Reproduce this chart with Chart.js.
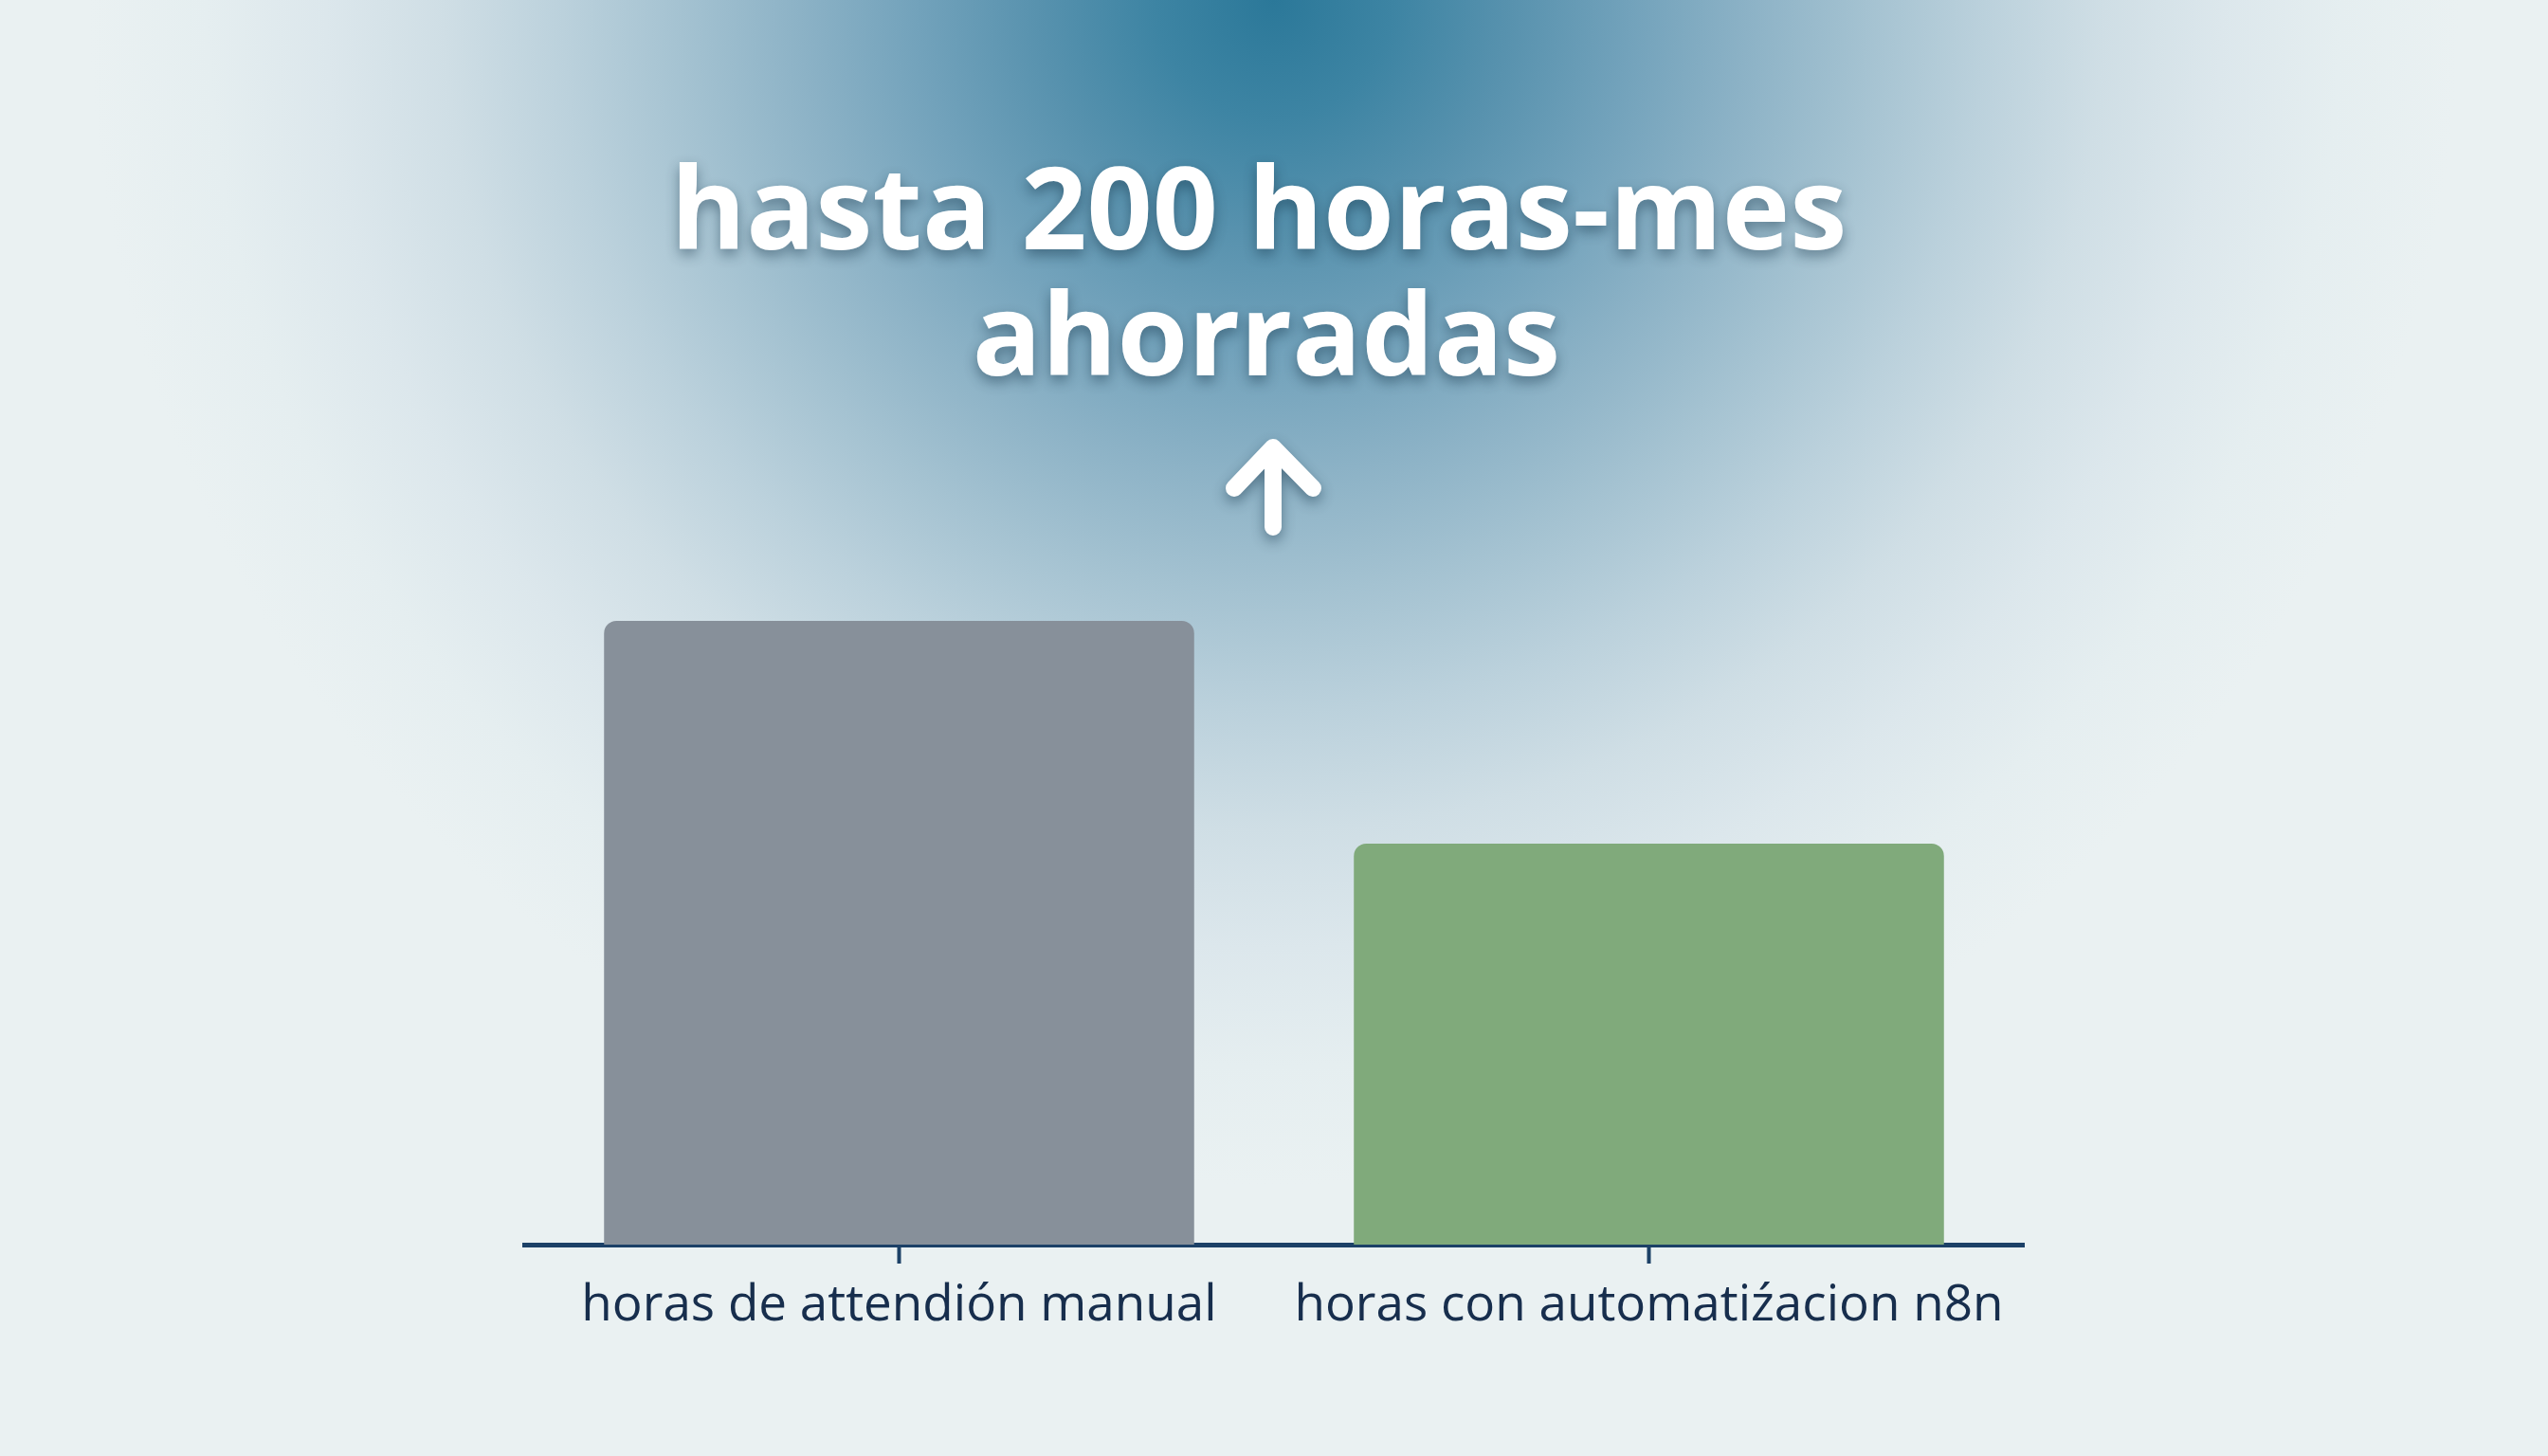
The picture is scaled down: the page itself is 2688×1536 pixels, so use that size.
<!DOCTYPE html>
<html lang="es">
<head>
<meta charset="utf-8">
<title>horas ahorradas</title>
<script src="https://cdn.jsdelivr.net/npm/chart.js@4.4.1/dist/chart.umd.min.js"></script>
<style>
  html, body {
    margin: 0;
    padding: 0;
    width: 2688px;
    height: 1536px;
    overflow: hidden;
    background-color: #eaf1f2;
    background-image: radial-gradient(ellipse 1250px 1250px at 50% 0%,
      #2b7899 0%, #3d84a3 10%, #5892ae 20%, #72a2bb 30%, #8cb2c6 40%, #a4c2d1 50%,
      #bbd1dc 60%, #cfdee5 70%, #dce7ec 80%, #e5eef0 90%, #eaf1f2 100%);
  }
  #wrap {
    position: absolute;
    left: 0;
    top: 0;
    width: 2688px;
    height: 1536px;
  }
</style>
</head>
<body>
<div id="wrap"><canvas id="barChart"></canvas></div>
<script>
const categories = ["horas de attendión manual", "horas con automatiźacion n8n"];
const hours = [560, 360];
const barColors = ["#87909a", "#80aa7b"];
const titleLines = ["hasta 200 horas-mes", "ahorradas"];

const navy = "#1c4167";

// white headline + arrow above the bars
const headline = {
  id: "headline",
  afterDraw(chart) {
    const ctx = chart.ctx;
    ctx.save();
    ctx.fillStyle = "#ffffff";
    ctx.shadowColor = "rgba(15, 45, 65, 0.45)";
    ctx.shadowBlur = 14;
    ctx.shadowOffsetY = 6;
    ctx.font = '700 121px "Open Sans"';
    ctx.textAlign = "center";
    ctx.textBaseline = "alphabetic";
    ctx.fillText(titleLines[0], 1328, 263);
    ctx.fillText(titleLines[1], 1336, 396);

    ctx.strokeStyle = "#ffffff";
    ctx.lineWidth = 18;
    ctx.lineCap = "round";
    ctx.lineJoin = "round";
    ctx.beginPath();
    ctx.moveTo(1343, 556);
    ctx.lineTo(1343, 476);
    ctx.moveTo(1302, 515);
    ctx.lineTo(1343, 472);
    ctx.lineTo(1385, 515);
    ctx.stroke();
    ctx.restore();
  },
};

const data = {
  labels: categories,
  datasets: [
    {
      data: hours,
      backgroundColor: barColors,
      borderRadius: 13,
      borderSkipped: "start",
      categoryPercentage: 1,
      barPercentage: 0.787,
    },
  ],
};

const config = {
  type: "bar",
  data: data,
  options: {
    responsive: true,
    maintainAspectRatio: false,
    animation: false,
    layout: {
      padding: { top: 608, left: 553, right: 553, bottom: 123 },
    },
    scales: {
      x: {
        afterFit(scale) {
          scale.height = 100;
        },
        grid: {
          offset: false,
          drawOnChartArea: false,
          tickLength: 20,
          tickWidth: 4,
          tickColor: navy,
        },
        border: {
          display: true,
          color: navy,
          width: 5,
        },
        ticks: {
          padding: 13,
          color: "#172e4d",
          font: {
            family: '"Open Sans"',
            size: 53,
          },
        },
      },
      y: {
        display: false,
        min: 0,
        max: 600,
      },
    },
    plugins: {
      legend: { display: false },
      tooltip: { enabled: false },
    },
  },
  plugins: [headline],
};

new Chart(document.getElementById("barChart"), config);
</script>
</body>
</html>
